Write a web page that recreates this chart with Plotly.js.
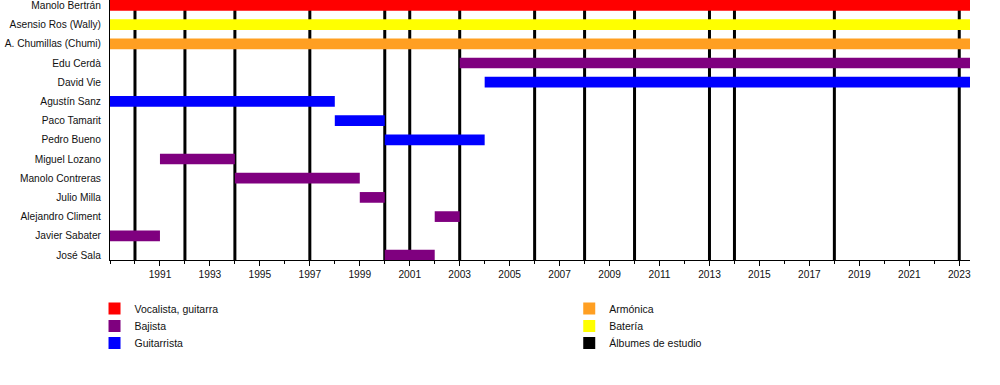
<!DOCTYPE html>
<html>
<head>
<meta charset="utf-8">
<script src="https://cdn.plot.ly/plotly-3.0.1.min.js"></script>
<style>html,body{margin:0;padding:0;background:#fff;}#chart{width:1000px;height:385px;}</style>
</head>
<body>
<div id="chart"></div>
<script>
// Members, top to bottom
const members = ["Manolo Bertrán","Asensio Ros (Wally)","A. Chumillas (Chumi)","Edu Cerdà","David Vie",
  "Agustín Sanz","Paco Tamarit","Pedro Bueno","Miguel Lozano","Manolo Contreras","Julio Milla",
  "Alejandro Climent","Javier Sabater","José Sala"];
const roles = ["Vocalista, guitarra","Bajista","Guitarrista","Armónica","Batería"];
const roleColors = ["#ff0000","#7f007f","#0000ff","#ff9f22","#ffff00"];
const END = 2023.43;
const START = 1989;
// member, role, start, end
const memberName  = ["Manolo Bertrán","Asensio Ros (Wally)","A. Chumillas (Chumi)","Edu Cerdà","David Vie",
  "Agustín Sanz","Paco Tamarit","Pedro Bueno","Miguel Lozano","Manolo Contreras","Julio Milla",
  "Alejandro Climent","Javier Sabater","José Sala"];
const memberRole  = ["Vocalista, guitarra","Batería","Armónica","Bajista","Guitarrista",
  "Guitarrista","Guitarrista","Guitarrista","Bajista","Bajista","Bajista","Bajista","Bajista","Bajista"];
const memberStart = [1989,1989,1989,2003,2004,1989,1998,2000,1991,1994,1999,2002,1989,2000];
const memberEnd   = [END,END,END,END,END,1998,2000,2004,1994,1999,2000,2003,1991,2002];
const albums = [1990,1992,1994,1997,2000,2001,2003,2006,2008,2010,2013,2014,2018,2023];
const albumLabel = "Álbumes de estudio";
const yearTicks = [1991,1993,1995,1997,1999,2001,2003,2005,2007,2009,2011,2013,2015,2017,2019,2021,2023];

const n = members.length;
const rowOf = name => n - 1 - members.indexOf(name);

// legend slots: left column roles 0-2, right column roles 3-4 + albums
const legendIds = ["legend","legend2","legend3","legend4","legend5","legend6"];

const traces = roles.map((r, ri) => {
  const idx = memberName.map((m, i) => i).filter(i => memberRole[i] === r);
  return {
    type: "bar", orientation: "h", name: r,
    y: idx.map(i => rowOf(memberName[i])),
    base: idx.map(i => memberStart[i]),
    x: idx.map(i => memberEnd[i] - memberStart[i]),
    width: 0.557,
    marker: {color: roleColors[ri], line: {width: 0}},
    legend: legendIds[ri],
    hoverinfo: "skip"
  };
});
traces.push({
  type: "bar", orientation: "h", name: albumLabel,
  y: [null], x: [null],
  marker: {color: "#000000"}, legend: legendIds[5], showlegend: true, hoverinfo: "skip"
});

const shapes = albums.map(a => ({
  type: "line", xref: "x", yref: "paper", x0: a, x1: a, y0: 0, y1: 1,
  line: {color: "#000", width: 3}, layer: "below"
}));

const font = {family: "Liberation Sans, Arial, sans-serif", size: 10.2, color: "#111"};
const layout = {
  width: 1000, height: 385,
  margin: {l: 110, r: 30, t: 0, b: 125},
  paper_bgcolor: "#fff", plot_bgcolor: "#fff",
  font: font,
  barmode: "overlay",
  showlegend: true,
  xaxis: {
    range: [START, END], showgrid: false, zeroline: false,
    showline: true, linecolor: "#000", linewidth: 1,
    tickmode: "array", tickvals: yearTicks, ticktext: yearTicks.map(String),
    ticks: "outside", ticklen: 5, tickwidth: 1, tickcolor: "#000",
    minor: {tickmode: "linear", dtick: 1, tick0: 1989, ticks: "outside", ticklen: 3, tickcolor: "#000", showgrid: false},
    tickfont: {size: 10.2}, fixedrange: true
  },
  yaxis: {
    range: [-0.26, n - 0.72], showgrid: false, zeroline: false,
    showline: true, linecolor: "#000", linewidth: 1,
    tickmode: "array", tickvals: members.map((m, i) => n - 1 - i), ticktext: members,
    ticks: "", ticklabelstandoff: 6, ticklabeloverflow: "allow", tickfont: {size: 10.2}, fixedrange: true
  },
  shapes: shapes
};
const legX = [-0.018, -0.018, -0.018, 0.534, 0.534, 0.534];
const legY = [-0.1308, -0.198, -0.2635, -0.1308, -0.198, -0.2635];
legendIds.forEach((id, i) => {
  layout[id] = {x: legX[i], xanchor: "left", y: legY[i], yanchor: "top", orientation: "v",
    bgcolor: "rgba(0,0,0,0)", borderwidth: 0, font: {size: 10.5}};
});

Plotly.newPlot("chart", traces, layout, {displayModeBar: false, staticPlot: true});
</script>
</body>
</html>
